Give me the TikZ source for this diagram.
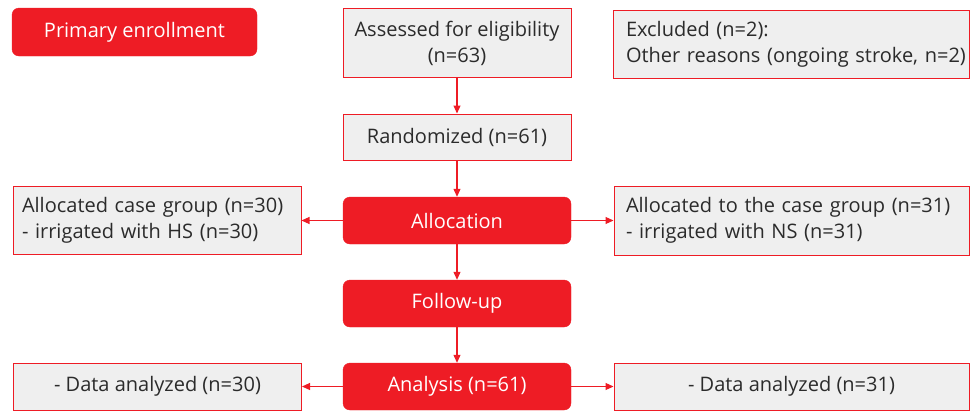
\documentclass[tikz,border=0pt]{standalone}
\usepackage{fontspec}
\setmainfont{Open Sans}
\usetikzlibrary{arrows.meta}
\definecolor{kred}{HTML}{EE1C25}
\definecolor{kgray}{HTML}{EFEFEF}
\definecolor{ktext}{HTML}{2B2B2B}
\tikzset{
  graybox/.style={draw=kred, line width=1pt, fill=kgray, text=ktext, inner sep=0pt, font=\fontsize{20}{26}\selectfont},
  redbox/.style={fill=kred, draw=kred, rounded corners=7pt, text=white, inner sep=0pt, font=\fontsize{20}{26}\selectfont},
  arr/.style={draw=kred, line width=1.1pt, -{Triangle[length=8pt,width=7pt]}}
}
\begin{document}
\begin{tikzpicture}[x=1pt,y=-1pt]
\useasboundingbox (0,0) rectangle (979,410);
\node[redbox, minimum width=245pt, minimum height=48pt] (prim) at (134.5,32) {Primary enrollment};
\node[graybox, minimum width=228pt, minimum height=69pt, align=center] (assess) at (457,43) {Assessed for eligibility\\(n=63)};
\node[graybox, minimum width=356pt, minimum height=68pt, align=left, text width=330pt] (excl) at (791,44) {Excluded (n=2):\\\mbox{Other reasons (ongoing stroke, n=2)}};
\node[graybox, minimum width=228pt, minimum height=46pt] (rand) at (457,137) {Randomized (n=61)};
\node[redbox, minimum width=228pt, minimum height=47pt] (alloc) at (457,220.5) {Allocation};
\node[graybox, minimum width=288pt, minimum height=68pt, align=left, text width=270pt] (lalloc) at (157,220) {Allocated case group (n=30)\\- irrigated with HS (n=30)};
\node[graybox, minimum width=355pt, minimum height=69pt, align=left, text width=331pt] (ralloc) at (791.5,220.5) {Allocated to the case group (n=31)\\- irrigated with NS (n=31)};
\node[redbox, minimum width=228pt, minimum height=47pt] (follow) at (457,303.5) {Follow-up};
\node[redbox, minimum width=228pt, minimum height=47pt] (anal) at (457,386.5) {Analysis (n=61)};
\node[graybox, minimum width=288pt, minimum height=47pt] (ldata) at (157.5,386.5) {- Data analyzed (n=30)};
\node[graybox, minimum width=355pt, minimum height=47pt] (rdata) at (791.5,386.5) {- Data analyzed (n=31)};
\draw[arr] (assess) -- (rand);
\draw[arr] (rand) -- (alloc);
\draw[arr] (alloc) -- (follow);
\draw[arr] (follow) -- (anal);
\draw[arr] (alloc.west) -- (lalloc.east |- alloc.west);
\draw[arr] (alloc.east) -- (ralloc.west |- alloc.east);
\draw[arr] (anal) -- (ldata);
\draw[arr] (anal) -- (rdata);
\end{tikzpicture}
\end{document}
